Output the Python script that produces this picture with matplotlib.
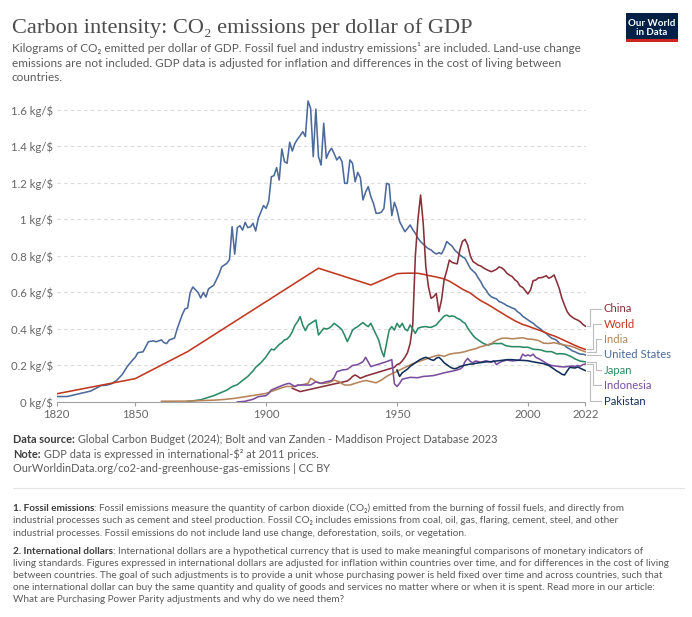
import matplotlib
matplotlib.use("Agg")
import matplotlib.pyplot as plt
from matplotlib.patches import Rectangle
from matplotlib.lines import Line2D

plt.rcParams['font.family'] = ['Lato', 'DejaVu Sans']

# ---------------- data ----------------
us_years = [1820, 1824, 1827, 1830, 1833, 1835, 1837, 1839, 1841, 1843, 1845, 1847, 1849, 1850,
            1851, 1853, 1855, 1857, 1858, 1860, 1861, 1862, 1863, 1865, 1866, 1868, 1869, 1870,
            1871, 1872, 1874, 1875, 1876, 1877, 1878, 1880, 1882, 1883, 1885, 1886, 1887, 1888,
            1889, 1890, 1891, 1892, 1893, 1894, 1895, 1896, 1897, 1899, 1900, 1901, 1902, 1903,
            1904, 1905, 1906, 1907, 1908, 1909, 1910, 1911, 1912, 1913, 1914, 1915, 1916, 1917,
            1918, 1919, 1920, 1921, 1922, 1923, 1924, 1925, 1926, 1927, 1928, 1929, 1930, 1931,
            1932, 1933, 1934, 1935, 1936, 1937, 1938, 1939, 1940, 1941, 1942, 1943, 1944, 1945,
            1946, 1947, 1948, 1949, 1950, 1951, 1952, 1953, 1954, 1955, 1956, 1957, 1958, 1959,
            1960, 1961, 1962, 1963, 1964, 1965, 1966, 1967, 1968, 1969, 1970, 1971, 1972, 1973,
            1974, 1975, 1976, 1977, 1978, 1979, 1980, 1981, 1982, 1983, 1984, 1985, 1986, 1987,
            1988, 1989, 1990, 1991, 1992, 1993, 1994, 1995, 1996, 1997, 1998, 1999, 2000, 2001,
            2002, 2003, 2004, 2005, 2006, 2007, 2008, 2009, 2010, 2011, 2012, 2013, 2014, 2015,
            2016, 2017, 2018, 2019, 2020, 2021, 2022]
us_values = [0.030, 0.030, 0.040, 0.050, 0.060, 0.075, 0.090, 0.092, 0.100, 0.120, 0.150, 0.195, 0.230, 0.245,
             0.270, 0.275, 0.330, 0.335, 0.330, 0.340, 0.325, 0.320, 0.340, 0.350, 0.400, 0.480, 0.510, 0.515,
             0.600, 0.630, 0.600, 0.570, 0.600, 0.575, 0.620, 0.640, 0.700, 0.740, 0.760, 0.780, 0.960, 0.810,
             0.955, 0.966, 0.942, 0.984, 0.955, 0.960, 0.979, 0.937, 1.006, 1.076, 1.061, 1.101, 1.234, 1.240,
             1.284, 1.216, 1.386, 1.317, 1.308, 1.423, 1.375, 1.417, 1.440, 1.459, 1.481, 1.454, 1.649, 1.609,
             1.344, 1.605, 1.344, 1.298, 1.527, 1.335, 1.370, 1.390, 1.360, 1.326, 1.344, 1.317, 1.198, 1.198,
             1.326, 1.308, 1.207, 1.258, 1.229, 1.107, 1.150, 1.180, 1.125, 1.088, 1.034, 1.034, 1.040, 1.061,
             1.198, 1.193, 1.021, 1.094, 1.052, 0.988, 0.960, 0.933, 0.950, 0.970, 0.945, 0.924, 0.897, 0.879,
             0.865, 0.851, 0.840, 0.833, 0.820, 0.811, 0.818, 0.811, 0.840, 0.879, 0.866, 0.855, 0.833, 0.820,
             0.806, 0.795, 0.787, 0.760, 0.732, 0.718, 0.705, 0.680, 0.659, 0.630, 0.614, 0.590, 0.577, 0.570,
             0.565, 0.550, 0.545, 0.537, 0.528, 0.522, 0.515, 0.510, 0.495, 0.485, 0.470, 0.460, 0.450, 0.440,
             0.432, 0.418, 0.408, 0.398, 0.385, 0.376, 0.362, 0.350, 0.345, 0.338, 0.322, 0.315, 0.310, 0.298,
             0.290, 0.280, 0.275, 0.268, 0.262, 0.262, 0.258]

world_years = [1820, 1850, 1870, 1920, 1940, 1950, 1952, 1955, 1958, 1960, 1962, 1965, 1968, 1970,
               1972, 1975, 1978, 1980, 1982, 1985, 1988, 1990, 1992, 1995, 1998, 2000, 2002, 2005,
               2008, 2010, 2012, 2015, 2018, 2020, 2022]
world_values = [0.045, 0.128, 0.276, 0.733, 0.641, 0.703, 0.705, 0.706, 0.705, 0.700, 0.693, 0.685, 0.674, 0.662,
                0.645, 0.618, 0.597, 0.575, 0.555, 0.532, 0.505, 0.488, 0.470, 0.445, 0.425, 0.416, 0.405, 0.390,
                0.372, 0.362, 0.350, 0.330, 0.310, 0.298, 0.288]

china_years = [1910, 1913, 1931, 1932, 1933, 1934, 1935, 1936, 1938, 1949, 1950, 1951, 1952, 1953,
               1954, 1955, 1956, 1957, 1958, 1959, 1960, 1961, 1962, 1963, 1964, 1965, 1966, 1967,
               1968, 1969, 1970, 1971, 1972, 1973, 1974, 1975, 1976, 1977, 1978, 1979, 1980, 1981,
               1982, 1983, 1984, 1985, 1986, 1987, 1988, 1989, 1990, 1991, 1992, 1993, 1994, 1995,
               1996, 1997, 1998, 1999, 2000, 2001, 2002, 2003, 2004, 2005, 2006, 2007, 2008, 2009,
               2010, 2011, 2012, 2013, 2014, 2015, 2016, 2017, 2018, 2019, 2020, 2021, 2022]
china_values = [0.075, 0.057, 0.115, 0.125, 0.140, 0.148, 0.140, 0.130, 0.142, 0.190, 0.205, 0.210, 0.225, 0.245,
                0.270, 0.320, 0.420, 0.800, 1.000, 1.134, 0.980, 0.742, 0.632, 0.568, 0.577, 0.595, 0.495, 0.559,
                0.669, 0.720, 0.778, 0.765, 0.760, 0.757, 0.833, 0.880, 0.891, 0.860, 0.800, 0.770, 0.760, 0.750,
                0.745, 0.735, 0.727, 0.720, 0.714, 0.720, 0.727, 0.740, 0.735, 0.723, 0.705, 0.695, 0.687, 0.670,
                0.659, 0.635, 0.628, 0.610, 0.592, 0.614, 0.665, 0.668, 0.680, 0.681, 0.685, 0.692, 0.678, 0.685,
                0.696, 0.660, 0.620, 0.568, 0.530, 0.495, 0.475, 0.464, 0.455, 0.449, 0.440, 0.425, 0.415]

japan_years = [1870, 1875, 1880, 1882, 1885, 1887, 1889, 1891, 1893, 1895, 1896, 1898, 1900, 1901,
               1902, 1903, 1904, 1905, 1906, 1907, 1908, 1909, 1910, 1911, 1912, 1913, 1914, 1915,
               1916, 1917, 1918, 1919, 1920, 1921, 1922, 1923, 1924, 1925, 1926, 1927, 1928, 1929,
               1930, 1931, 1932, 1933, 1934, 1935, 1936, 1937, 1938, 1939, 1940, 1941, 1942, 1943,
               1944, 1945, 1946, 1947, 1948, 1949, 1950, 1951, 1952, 1953, 1954, 1955, 1956, 1957,
               1958, 1959, 1960, 1961, 1962, 1963, 1964, 1965, 1966, 1967, 1968, 1969, 1970, 1971,
               1972, 1973, 1974, 1975, 1976, 1977, 1978, 1979, 1980, 1981, 1982, 1983, 1984, 1985,
               1986, 1987, 1988, 1989, 1990, 1991, 1992, 1993, 1994, 1995, 1996, 1997, 1998, 1999,
               2000, 2001, 2002, 2003, 2004, 2005, 2006, 2007, 2008, 2009, 2010, 2011, 2012, 2013,
               2014, 2015, 2016, 2017, 2018, 2019, 2020, 2021, 2022]
japan_values = [0.003, 0.012, 0.035, 0.047, 0.065, 0.084, 0.095, 0.118, 0.140, 0.170, 0.190, 0.215, 0.248, 0.270,
                0.290, 0.285, 0.300, 0.315, 0.325, 0.340, 0.345, 0.360, 0.385, 0.420, 0.440, 0.468, 0.420, 0.391,
                0.420, 0.431, 0.440, 0.449, 0.367, 0.385, 0.404, 0.400, 0.404, 0.415, 0.431, 0.420, 0.409, 0.395,
                0.365, 0.331, 0.360, 0.394, 0.405, 0.413, 0.425, 0.435, 0.422, 0.413, 0.431, 0.400, 0.370, 0.340,
                0.285, 0.248, 0.321, 0.394, 0.413, 0.394, 0.431, 0.409, 0.431, 0.400, 0.390, 0.422, 0.400, 0.376,
                0.404, 0.409, 0.412, 0.413, 0.410, 0.409, 0.415, 0.422, 0.440, 0.455, 0.471, 0.476, 0.468, 0.472,
                0.468, 0.458, 0.453, 0.440, 0.431, 0.405, 0.385, 0.365, 0.350, 0.340, 0.330, 0.321, 0.315, 0.312,
                0.318, 0.321, 0.320, 0.320, 0.321, 0.312, 0.307, 0.305, 0.303, 0.303, 0.303, 0.303, 0.300, 0.300,
                0.300, 0.295, 0.289, 0.288, 0.287, 0.285, 0.280, 0.276, 0.276, 0.276, 0.270, 0.263, 0.265, 0.264,
                0.263, 0.258, 0.252, 0.245, 0.236, 0.230, 0.224, 0.222, 0.220]

india_years = [1860, 1870, 1880, 1884, 1888, 1892, 1896, 1900, 1902, 1904, 1906, 1908, 1910, 1912,
               1914, 1916, 1917, 1918, 1919, 1920, 1921, 1922, 1924, 1926, 1927, 1928, 1929, 1930,
               1932, 1934, 1936, 1938, 1940, 1942, 1944, 1946, 1948, 1950, 1952, 1954, 1956, 1958,
               1960, 1962, 1964, 1966, 1968, 1970, 1972, 1974, 1976, 1978, 1980, 1982, 1984, 1986,
               1988, 1990, 1992, 1994, 1996, 1998, 2000, 2002, 2004, 2006, 2008, 2010, 2012, 2014,
               2016, 2018, 2020, 2022]
india_values = [0.004, 0.005, 0.010, 0.014, 0.020, 0.029, 0.038, 0.047, 0.058, 0.068, 0.078, 0.086, 0.084, 0.090,
                0.095, 0.102, 0.130, 0.122, 0.111, 0.105, 0.102, 0.102, 0.106, 0.120, 0.115, 0.111, 0.100, 0.093,
                0.093, 0.102, 0.111, 0.118, 0.112, 0.105, 0.120, 0.140, 0.155, 0.168, 0.182, 0.196, 0.210, 0.220,
                0.230, 0.240, 0.250, 0.257, 0.250, 0.262, 0.267, 0.270, 0.276, 0.285, 0.292, 0.303, 0.310, 0.321,
                0.338, 0.349, 0.350, 0.346, 0.349, 0.352, 0.345, 0.343, 0.337, 0.322, 0.321, 0.325, 0.318, 0.312,
                0.307, 0.298, 0.285, 0.275]

indonesia_years = [1889, 1892, 1895, 1897, 1900, 1901, 1902, 1904, 1906, 1908, 1909, 1911, 1912, 1915,
                   1917, 1919, 1921, 1923, 1925, 1926, 1927, 1929, 1931, 1933, 1935, 1937, 1938, 1940,
                   1942, 1944, 1946, 1948, 1949, 1950, 1951, 1952, 1955, 1958, 1960, 1962, 1964, 1966,
                   1968, 1970, 1972, 1974, 1975, 1976, 1977, 1978, 1979, 1980, 1982, 1984, 1986, 1987,
                   1988, 1989, 1990, 1992, 1994, 1996, 1997, 1998, 1999, 2000, 2001, 2002, 2003, 2004,
                   2005, 2006, 2007, 2008, 2009, 2010, 2012, 2014, 2015, 2016, 2017, 2018, 2019, 2020,
                   2021, 2022]
indonesia_values = [0.000, 0.004, 0.015, 0.029, 0.035, 0.047, 0.066, 0.078, 0.090, 0.100, 0.102, 0.084, 0.093, 0.093,
                    0.093, 0.111, 0.102, 0.111, 0.117, 0.135, 0.166, 0.175, 0.179, 0.200, 0.205, 0.221, 0.245, 0.194,
                    0.203, 0.212, 0.221, 0.232, 0.100, 0.085, 0.102, 0.125, 0.135, 0.133, 0.140, 0.142, 0.145, 0.152,
                    0.160, 0.166, 0.172, 0.180, 0.190, 0.222, 0.239, 0.222, 0.215, 0.225, 0.218, 0.226, 0.218, 0.226,
                    0.205, 0.215, 0.222, 0.230, 0.225, 0.228, 0.232, 0.262, 0.252, 0.258, 0.252, 0.262, 0.245, 0.238,
                    0.230, 0.222, 0.212, 0.205, 0.200, 0.198, 0.194, 0.192, 0.194, 0.196, 0.197, 0.195, 0.200, 0.196,
                    0.205, 0.208]

pakistan_years = [1950, 1951, 1952, 1953, 1954, 1955, 1956, 1957, 1958, 1959, 1960, 1961, 1962, 1963,
                  1964, 1965, 1966, 1967, 1968, 1969, 1970, 1971, 1972, 1973, 1974, 1975, 1976, 1977,
                  1978, 1979, 1980, 1982, 1984, 1986, 1988, 1990, 1992, 1994, 1996, 1998, 2000, 2002,
                  2004, 2006, 2008, 2009, 2010, 2011, 2012, 2013, 2014, 2015, 2016, 2017, 2018, 2019,
                  2020, 2021, 2022]
pakistan_values = [0.175, 0.140, 0.160, 0.170, 0.180, 0.195, 0.205, 0.215, 0.225, 0.234, 0.240, 0.245, 0.239, 0.232,
                   0.228, 0.240, 0.245, 0.232, 0.215, 0.205, 0.194, 0.186, 0.182, 0.186, 0.194, 0.198, 0.202, 0.205,
                   0.208, 0.208, 0.212, 0.216, 0.220, 0.221, 0.225, 0.228, 0.232, 0.232, 0.229, 0.228, 0.226, 0.220,
                   0.215, 0.210, 0.200, 0.190, 0.180, 0.170, 0.162, 0.152, 0.148, 0.170, 0.190, 0.188, 0.186, 0.192,
                   0.185, 0.178, 0.172]

series_names = ["China", "World", "India", "United States", "Japan", "Indonesia", "Pakistan"]
series_data = {
    "China": (china_years, china_values),
    "World": (world_years, world_values),
    "India": (india_years, india_values),
    "United States": (us_years, us_values),
    "Japan": (japan_years, japan_values),
    "Indonesia": (indonesia_years, indonesia_values),
    "Pakistan": (pakistan_years, pakistan_values),
}
colors = {
    "China": "#883039", "World": "#C0381F", "India": "#B5845A", "United States": "#4C6A9C",
    "Japan": "#2B8A66", "Indonesia": "#7B4D9F", "Pakistan": "#132F5B",
}
draw_order = ["United States", "World", "China", "Japan", "India", "Indonesia", "Pakistan"]

x_ticks = [1820, 1850, 1900, 1950, 2000, 2022]
y_ticks = [0, 0.2, 0.4, 0.6, 0.8, 1.0, 1.2, 1.4, 1.6]
y_tick_labels = ["0 kg/$", "0.2 kg/$", "0.4 kg/$", "0.6 kg/$", "0.8 kg/$", "1 kg/$",
                 "1.2 kg/$", "1.4 kg/$", "1.6 kg/$"]

title = "Carbon intensity: CO\u2082 emissions per dollar of GDP"
subtitle_lines = [
    "Kilograms of CO\u2082 emitted per dollar of GDP. Fossil fuel and industry emissions\u00b9 are included. Land-use change",
    "emissions are not included. GDP data is adjusted for inflation and differences in the cost of living between",
    "countries.",
]
source_lines = [
    ("Data source:", " Global Carbon Budget (2024); Bolt and van Zanden - Maddison Project Database 2023"),
    ("Note:", " GDP data is expressed in international-$\u00b2 at 2011 prices."),
    ("", "OurWorldinData.org/co2-and-greenhouse-gas-emissions | CC BY"),
]
footnote1 = [
    ("1. Fossil emissions", ": Fossil emissions measure the quantity of carbon dioxide (CO\u2082) emitted from the burning of fossil fuels, and directly from"),
    ("", "industrial processes such as cement and steel production. Fossil CO\u2082 includes emissions from coal, oil, gas, flaring, cement, steel, and other"),
    ("", "industrial processes. Fossil emissions do not include land use change, deforestation, soils, or vegetation."),
]
footnote2 = [
    ("2. International dollars", ": International dollars are a hypothetical currency that is used to make meaningful comparisons of monetary indicators of"),
    ("", "living standards. Figures expressed in international dollars are adjusted for inflation within countries over time, and for differences in the cost of living"),
    ("", "between countries. The goal of such adjustments is to provide a unit whose purchasing power is held fixed over time and across countries, such that"),
    ("", "one international dollar can buy the same quantity and quality of goods and services no matter where or when it is spent. Read more in our article:"),
    ("", "What are Purchasing Power Parity adjustments and why do we need them?"),
]

# ---------------- layout ----------------
W, H = 692, 617
fig = plt.figure(figsize=(W / 100, H / 100), dpi=100)
fig.patch.set_facecolor("white")

def fx(px):
    return px / W

def fy(py):
    return 1 - py / H

ax_left, ax_right, ax_bottom, ax_top = 56.7, 585.5, 402, 99
ax = fig.add_axes([fx(ax_left), fy(ax_bottom), fx(ax_right - ax_left), (ax_bottom - ax_top) / H])
ax.set_xlim(1820, 2022)
ax.set_ylim(0, 1.66)

for s in ["top", "right", "left"]:
    ax.spines[s].set_visible(False)
ax.spines["bottom"].set_color("#a0a0a0")
ax.spines["bottom"].set_linewidth(0.8)

ax.set_xticks(x_ticks)
ax.set_xticklabels([str(x) for x in x_ticks])
ax.tick_params(axis="x", length=3, width=0.8, color="#a0a0a0", labelcolor="#666666",
               labelsize=8.2, pad=2)
ax.set_yticks(y_ticks)
ax.set_yticklabels(y_tick_labels)
ax.tick_params(axis="y", length=0, labelcolor="#666666", labelsize=8.2, pad=2.7)

for yv in y_ticks[1:]:
    ax.axhline(yv, color="#d9d9d9", lw=0.8, ls=(0, (3, 3)), zorder=0)

for name in draw_order:
    xs, ys = series_data[name]
    ax.plot(xs, ys, color=colors[name], lw=1.15, solid_joinstyle="round", zorder=3)

# end labels with connectors (positions in data units)
label_y = {"China": 0.510, "World": 0.427, "India": 0.343, "United States": 0.260,
           "Japan": 0.175, "Indonesia": 0.093, "Pakistan": 0.005}
knee_x = {"China": 2023.6, "World": 2024.9, "India": 2026.1, "United States": 2025.0,
          "Japan": 2026.1, "Indonesia": 2024.9, "Pakistan": 2023.6}
for name in series_names:
    xs, ys = series_data[name]
    y_end = ys[-1]
    ly = label_y[name]
    kx = knee_x[name]
    ax.add_line(Line2D([2022.4, kx, kx, 2028.0], [y_end, y_end, ly, ly], color="#bdbdbd",
                       lw=0.8, clip_on=False, zorder=2))
    ax.text(2028.9, ly, name, color=colors[name], fontsize=8.1, va="center", ha="left",
            clip_on=False)

# ---------------- texts ----------------
fig.canvas.draw()
r = fig.canvas.get_renderer()

def fit(t, target):
    w = t.get_window_extent(r).width
    t.set_fontsize(t.get_fontsize() * target / w)

t_title = fig.text(fx(12), fy(33), title, fontsize=15,
                   family=["Liberation Serif", "DejaVu Serif"], color="#4d4d4d", va="baseline")
fit(t_title, 462)

sub_ts = []
for i, line in enumerate(subtitle_lines):
    sub_ts.append(fig.text(fx(12), fy(52 + i * 14.6), line, fontsize=9, color="#5b5b5b", va="baseline"))
fit(sub_ts[0], 570)
for t in sub_ts[1:]:
    t.set_fontsize(sub_ts[0].get_fontsize())

# logo
fig.add_artist(Rectangle((fx(626), fy(42)), fx(52), 29 / H, transform=fig.transFigure,
                         facecolor="#002147", edgecolor="none"))
fig.add_artist(Rectangle((fx(626), fy(42)), fx(52), 3 / H, transform=fig.transFigure,
                         facecolor="#CE261E", edgecolor="none"))
fig.text(fx(652), fy(23), "Our World", color="white", fontsize=7, weight="bold",
         ha="center", va="center")
fig.text(fx(652), fy(32.5), "in Data", color="white", fontsize=7, weight="bold",
         ha="center", va="center")

def two_part(x0, ybase, bold, rest, size, color_b="#3d3d3d", color_r="#5b5b5b"):
    x = x0
    if bold:
        tb = fig.text(fx(x), fy(ybase), bold, fontsize=size, weight="bold", color=color_b,
                      va="baseline")
        x += tb.get_window_extent(r).width
    fig.text(fx(x), fy(ybase), rest, fontsize=size, color=color_r, va="baseline")

# measure source font size
probe = fig.text(0, 0, source_lines[0][0] + source_lines[0][1], fontsize=8)
fit(probe, 484)
src_size = probe.get_fontsize()
probe.remove()
for i, (b, rest) in enumerate(source_lines):
    two_part(13, 443 + i * 14.6, b, rest, src_size)

# separator
fig.add_artist(Line2D([fx(13), fx(684)], [fy(488), fy(488)], color="#e3e3e3", lw=0.8,
                      transform=fig.transFigure))

probe = fig.text(0, 0, footnote2[1][1], fontsize=7)
fit(probe, 659)
fn_size = probe.get_fontsize()
probe.remove()
for i, (b, rest) in enumerate(footnote1):
    two_part(13, 511 + i * 12.4, b, rest, fn_size)
for i, (b, rest) in enumerate(footnote2):
    two_part(13, 553.5 + i * 12.1, b, rest, fn_size)

fig.savefig("out.png", dpi=100, facecolor="white")
